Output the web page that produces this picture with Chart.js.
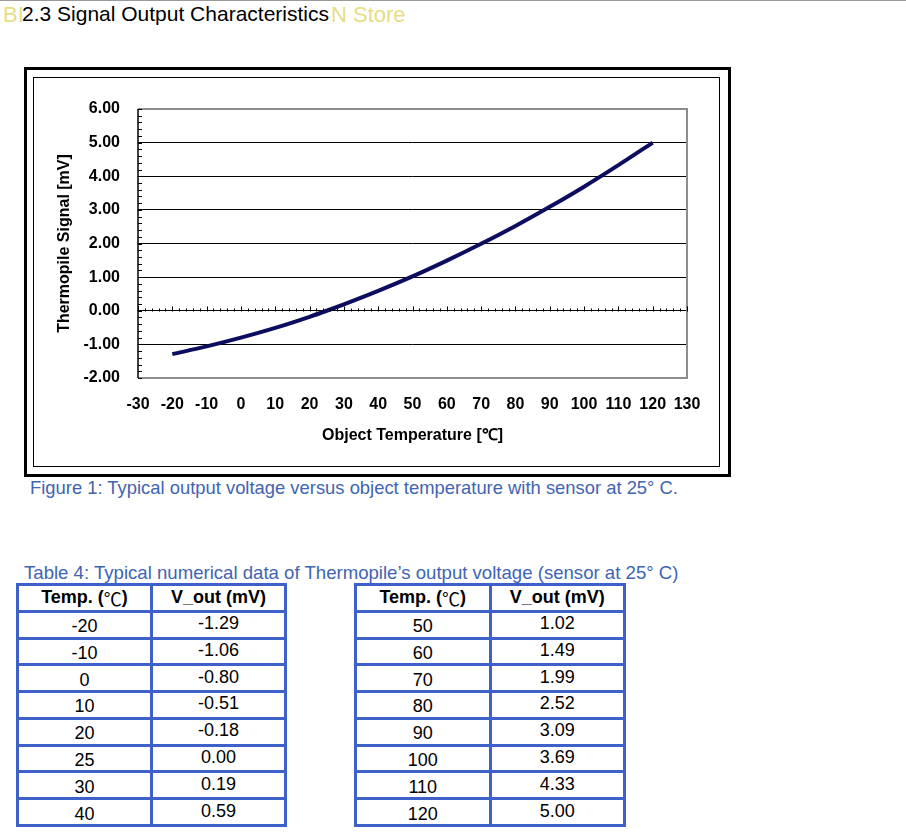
<!DOCTYPE html>
<html>
<head>
<meta charset="utf-8">
<script src="https://cdn.jsdelivr.net/npm/chart.js@4.4.1/dist/chart.umd.min.js"></script>
<style>
  body { margin: 0; background: #fff; font-family: 'Liberation Sans', Arial, sans-serif; width: 906px; height: 838px; position: relative; overflow: hidden; }
  .topline { position: absolute; left: 0; top: 0; width: 906px; height: 1px; background: #9a9a9a; }
  .wm { position: absolute; top: 2px; font-size: 22px; color: rgba(225, 212, 100, 0.8); }
  .heading { position: absolute; left: 22px; top: 2px; font-size: 21px; color: #000; }
  .outer { position: absolute; left: 24px; top: 67px; width: 701px; height: 404px; border: 3px solid #000; }
  .inner { position: absolute; left: 33px; top: 77px; width: 685px; height: 388px; border: 1px solid #000; }
  #chartCanvas { position: absolute; left: 34px; top: 78px; }
  .caption { position: absolute; font-size: 18.4px; color: #3f64b2; white-space: nowrap; }
  .tbl { position: absolute; top: 583px; height: 238px; padding: 3px; background: #3d60c9; display: grid; grid-template-columns: 1fr 1fr; grid-template-rows: repeat(9, minmax(0, 1fr)); gap: 3px; }
  .tbl div { background: #fff; display: flex; align-items: center; justify-content: center; font-size: 18px; color: #000; overflow: hidden; }
  .tbl div.h { font-weight: bold; }
  .tbl div.c1 span { position: relative; top: 2px; }
  .tbl div.c2 span { position: relative; top: -1px; }
  .deg { font-family: 'Noto Sans CJK SC', sans-serif; font-weight: normal; }
</style>
</head>
<body>
<div class="topline"></div>
<div class="wm" style="left:3px">BI</div>
<div class="wm" style="left:331px">N Store</div>
<div class="heading">2.3 Signal Output Characteristics</div>

<div class="outer"></div>
<div class="inner"></div>
<canvas id="chartCanvas" width="685" height="388"></canvas>

<div class="caption" style="left:30px; top:477px;">Figure 1: Typical output voltage versus object temperature with sensor at 25° C.</div>
<div class="caption" style="left:24px; top:562px; font-size:18.6px;">Table 4: Typical numerical data of Thermopile’s output voltage (sensor at 25° C)</div>

<div class="tbl" id="tableLeft" style="left:16px; width:265px;"></div>
<div class="tbl" id="tableRight" style="left:354px; width:266px;"></div>

<script>
// Data (Table 4)
var temps = [-20, -10, 0, 10, 20, 25, 30, 40, 50, 60, 70, 80, 90, 100, 110, 120];
var vout = [-1.29, -1.06, -0.80, -0.51, -0.18, 0.00, 0.19, 0.59, 1.02, 1.49, 1.99, 2.52, 3.09, 3.69, 4.33, 5.00];

// Axis ranges / tick labels
var xMin = -30, xMax = 130, xStep = 10;
var yMin = -2, yMax = 6, yStep = 1;
var headers = ['Temp. (<span class="deg">℃</span>)', 'V_out (mV)'];

var fontFamily = "'Liberation Sans', Arial, sans-serif";

// Fill the two tables from the data arrays
function fillTable(id, from, to) {
    var el = document.getElementById(id);
    var html = '<div class="h">' + headers[0] + '</div><div class="h">' + headers[1] + '</div>';
    for (var i = from; i < to; i++) {
        html += '<div class="c1"><span>' + temps[i] + '</span></div><div class="c2"><span>' + vout[i].toFixed(2) + '</span></div>';
    }
    el.innerHTML = html;
}
fillTable('tableLeft', 0, 8);
fillTable('tableRight', 8, 16);

// Frame, axis line and small tick marks like the original spreadsheet chart
var framePlugin = {
    id: 'frame',
    afterDatasetsDraw: function(chart) {
        var ctx = chart.ctx;
        var a = chart.chartArea;
        var x = chart.scales.x, y = chart.scales.y;
        ctx.save();
        // gray frame top/right/bottom
        ctx.strokeStyle = '#8c8c8c';
        ctx.lineWidth = 2;
        ctx.beginPath();
        ctx.moveTo(a.left, a.top);
        ctx.lineTo(a.right, a.top);
        ctx.lineTo(a.right, a.bottom);
        ctx.lineTo(a.left, a.bottom);
        ctx.stroke();
        // black value axis
        ctx.strokeStyle = '#000';
        ctx.lineWidth = 1.5;
        ctx.beginPath();
        ctx.moveTo(a.left, a.top);
        ctx.lineTo(a.left, a.bottom);
        ctx.stroke();
        // minor ticks on the value axis every 0.2
        ctx.lineWidth = 1;
        ctx.beginPath();
        for (var i = 0; i <= (yMax - yMin) * 5; i++) {
            var py = Math.round(y.getPixelForValue(yMin + i * 0.2)) + 0.5;
            ctx.moveTo(a.left, py);
            ctx.lineTo(a.left + 4, py);
        }
        // ticks along the zero line every 2 units
        var y0 = Math.round(y.getPixelForValue(0)) + 0.5;
        for (var t = xMin; t <= xMax; t += 2) {
            var px = Math.round(x.getPixelForValue(t)) + 0.5;
            ctx.moveTo(px, y0);
            ctx.lineTo(px, y0 - (t % 10 === 0 ? 5 : 3));
        }
        ctx.stroke();
        ctx.restore();
    }
};

var ctx = document.getElementById('chartCanvas').getContext('2d');
var signalChart = new Chart(ctx, {
    type: 'line',
    data: {
        datasets: [{
            data: temps.map(function(t, i) { return { x: t, y: vout[i] }; }),
            borderColor: '#0d0d60',
            borderWidth: 4,
            pointRadius: 0,
            cubicInterpolationMode: 'monotone',
            fill: false
        }]
    },
    options: {
        responsive: false,
        animation: false,
        devicePixelRatio: 1,
        layout: { padding: { top: 31, right: 32, bottom: 0, left: 0 } },
        plugins: { legend: { display: false }, tooltip: { enabled: false } },
        scales: {
            x: {
                type: 'linear',
                min: xMin,
                max: xMax,
                afterFit: function(scale) { scale.height = 88; },
                ticks: {
                    stepSize: xStep,
                    color: '#000',
                    padding: 17,
                    font: { family: fontFamily, size: 16, weight: 'bold' }
                },
                grid: { display: false, drawTicks: false },
                border: { display: false },
                title: {
                    display: true,
                    text: 'Object Temperature [℃]',
                    color: '#000',
                    padding: 21,
                    font: { family: fontFamily, size: 16, weight: 'bold' }
                }
            },
            y: {
                min: yMin,
                max: yMax,
                afterFit: function(scale) { scale.width = 104; },
                ticks: {
                    stepSize: yStep,
                    color: '#000',
                    padding: 18,
                    font: { family: fontFamily, size: 16, weight: 'bold' },
                    callback: function(v) { return v.toFixed(2); }
                },
                grid: { color: '#000', lineWidth: 1, drawTicks: false },
                border: { display: false },
                title: {
                    display: true,
                    text: 'Thermopile Signal [mV]',
                    color: '#000',
                    padding: 21,
                    font: { family: fontFamily, size: 16, weight: 'bold' }
                }
            }
        }
    },
    plugins: [framePlugin]
});
</script>
</body>
</html>
